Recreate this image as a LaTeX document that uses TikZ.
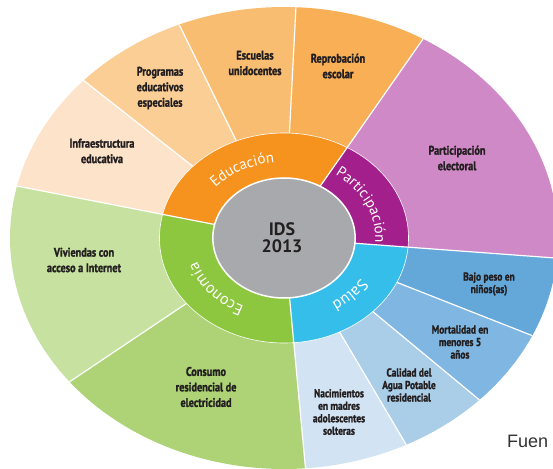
\documentclass[tikz,border=0pt]{standalone}
\usepackage{fontspec}
\setmainfont{PT Sans}
\newfontfamily\lblfont{PT Sans}[UprightFont=* Bold, FakeStretch=0.82, FakeBold=1.6]
\newfontfamily\ringfont{PT Sans}
\newfontfamily\srcfont{Liberation Sans}
\usetikzlibrary{decorations.text}
\definecolor{txt}{RGB}{35,31,32}
\definecolor{eduR}{RGB}{246,146,30}
\definecolor{repro}{RGB}{248,175,86}
\definecolor{escu}{RGB}{249,189,113}
\definecolor{progr}{RGB}{251,206,150}
\definecolor{infra}{RGB}{253,227,201}
\definecolor{partR}{RGB}{163,31,140}
\definecolor{partE}{RGB}{207,137,199}
\definecolor{saludR}{RGB}{54,190,234}
\definecolor{bajo}{RGB}{100,168,218}
\definecolor{mort}{RGB}{128,183,226}
\definecolor{cali}{RGB}{170,205,232}
\definecolor{naci}{RGB}{210,228,244}
\definecolor{ecoR}{RGB}{141,198,63}
\definecolor{vivi}{RGB}{199,226,160}
\definecolor{consu}{RGB}{173,211,118}
\definecolor{core}{RGB}{167,169,172}
\definecolor{srcgray}{RGB}{50,50,50}
\tikzset{
  lbl/.style={font={\lblfont\fontsize{12.5}{15.5}\selectfont}, text=txt, align=center, inner sep=0pt},
  lbls/.style={lbl, font={\lblfont\fontsize{11.5}{12.5}\selectfont}},
  sepline/.style={white, line width=1.2pt},
  ringtext/.style={decorate, decoration={text along path, text align=center, text={#1}}},
}
\newcommand\seg[4]{\fill[#4] (0,0) -- (#1:#3) arc[start angle=#1, end angle=#2, radius=#3] -- cycle;}
\begin{document}
\begin{tikzpicture}[x=1pt,y=1pt]
\useasboundingbox (-284,-230) rectangle (269,238);
\clip (-284,-230) rectangle (269,238);
\begin{scope}[xscale=1.186]
  % outer ring
  \seg{59.5}{87.5}{231}{repro}
  \seg{87.5}{112.5}{231}{escu}
  \seg{112.5}{137}{231}{progr}
  \seg{137}{167}{231}{infra}
  \seg{167}{218.5}{231}{vivi}
  \seg{218.5}{274.5}{231}{consu}
  \seg{-85.5}{-63.5}{231}{naci}
  \seg{-63.5}{-44.5}{231}{cali}
  \seg{-44.5}{-25}{231}{mort}
  \seg{-25}{-5}{231}{bajo}
  \seg{-5}{59.5}{231}{partE}
  \foreach \a in {59.5,87.5,112.5,137,167,218.5,274.5,-63.5,-44.5,-25,-5}
    \draw[sepline] (0,0) -- (\a:231);
  % category ring
  \seg{59.5}{167}{105}{eduR}
  \seg{167}{274.5}{105}{ecoR}
  \seg{-85.5}{-5}{105}{saludR}
  \seg{-5}{59.5}{105}{partR}
  \draw[white, line width=0.6pt] (0,0) circle[radius=105];
  \foreach \a in {59.5,167,274.5,-5}
    \draw[sepline] (0,0) -- (\a:105);
  % core
  \fill[core] (0,0) circle[radius=60];
  \draw[white, line width=1.5pt] (0,0) circle[radius=60];
\end{scope}
% ring labels
\path[ringtext={|\ringfont\fontsize{15}{15}\selectfont\color{white}|Educación}]
  (180:91.3 and 76) arc[start angle=180, end angle=60, x radius=91.3, y radius=76];
\path[ringtext={|\ringfont\fontsize{15}{15}\selectfont\color{white}|Participación}]
  (84:91.3 and 76) arc[start angle=84, end angle=-36, x radius=91.3, y radius=76];
\path[ringtext={|\ringfont\fontsize{16}{16}\selectfont\color{white}|Salud}]
  (3:91.3 and 76) arc[start angle=3, end angle=-89, x radius=91.3, y radius=76];
\path[ringtext={|\ringfont\fontsize{16}{16}\selectfont\color{white}|Economía}]
  (278:91.3 and 76) arc[start angle=278, end angle=158, x radius=91.3, y radius=76];
% center
\node[font={\bfseries\fontsize{18}{17}\selectfont}, text=txt, align=center, inner sep=0pt] (ids) at (-2,0) {IDS\\2013};
% outer labels
\node[lbl] (infra) at (-182,87) {Infraestructura\\educativa};
\node[lbl] (progr) at (-124,150) {Programas\\educativos\\especiales};
\node[lbl] (escu) at (-29,175) {Escuelas\\unidocentes};
\node[lbl] (repro) at (54,172) {Reprobación\\escolar};
\node[lbl] (parte) at (173,80) {Participación\\electoral};
\node[lbl] (vivi) at (-200,-22) {Viviendas con\\acceso a Internet};
\node[lbl] (consu) at (-78,-149) {Consumo\\residencial de\\electricidad};
\node[lbls] (naci) at (55,-174) {Nacimientos\\en madres\\adolescentes\\solteras};
\node[lbls] (cali) at (125,-147) {Calidad del\\Agua Potable\\residencial};
\node[lbls] (mort) at (176,-104) {Mortalidad en\\menores 5\\años};
\node[lbls] (bajo) at (205,-46) {Bajo peso en\\niños(as)};
% source (cut at the edge in the reference)
\node[font={\srcfont\fontsize{18}{18}\selectfont}, text=srcgray, anchor=base west, inner sep=0pt] (src) at (223,-209) {Fuen};
\end{tikzpicture}
\end{document}
